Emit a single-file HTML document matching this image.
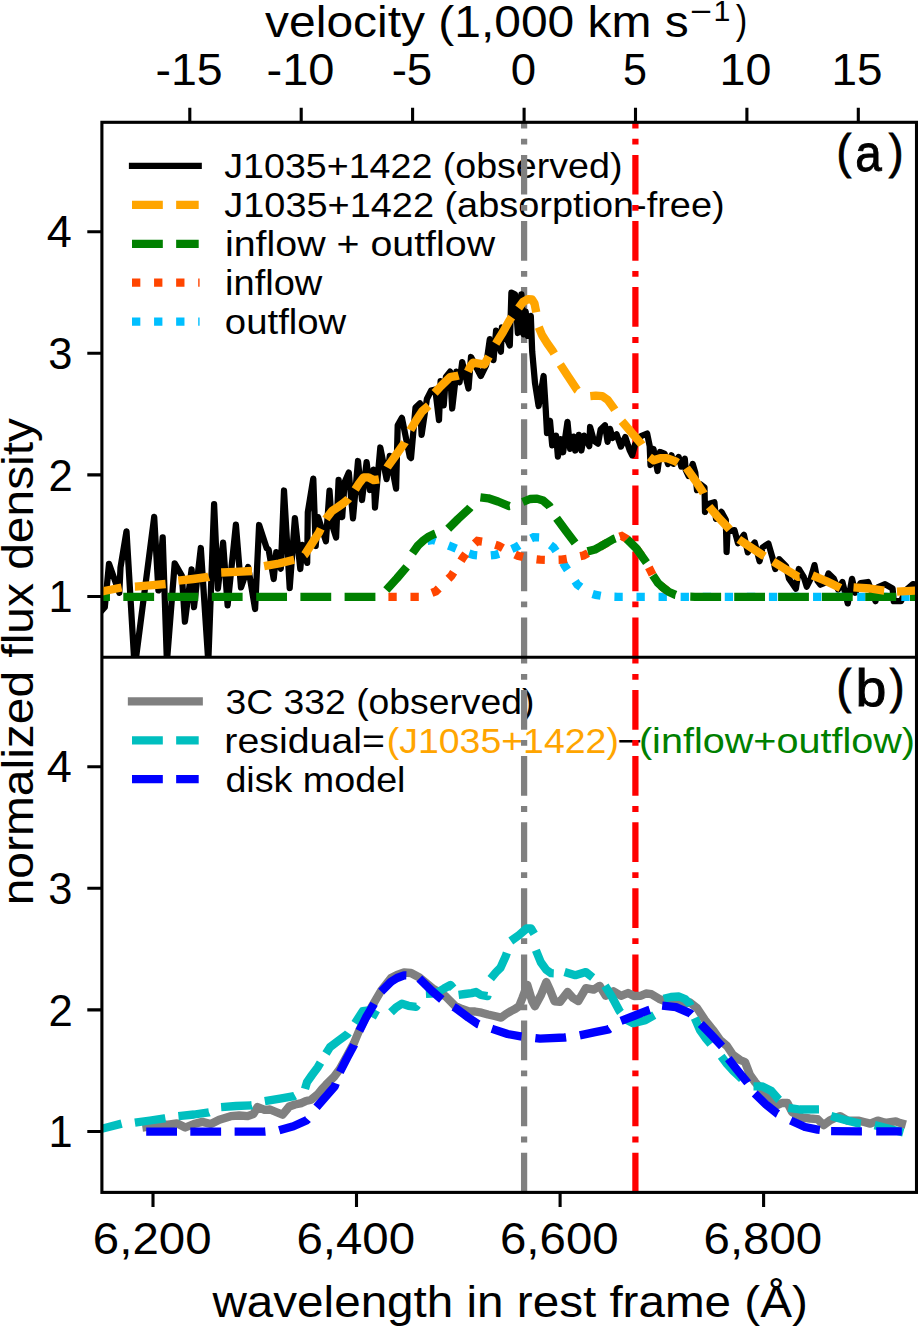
<!DOCTYPE html>
<html><head><meta charset="utf-8"><style>
html,body{margin:0;padding:0;background:#fff;overflow:hidden;}
svg{display:block;}
text{font-family:"Liberation Sans", sans-serif;fill:#000;font-kerning:none;}
</style></head><body>
<svg width="918" height="1327" viewBox="0 0 918 1327">
<rect width="918" height="1327" fill="#fff"/>
<defs>
<clipPath id="ca"><rect x="101.9" y="122.3" width="814.6" height="535.0"/></clipPath>
<clipPath id="cb"><rect x="101.9" y="657.3" width="814.6" height="535.1000000000001"/></clipPath>
</defs>
<text x="224.31" y="178.20" font-size="35.2" textLength="398.12" lengthAdjust="spacingAndGlyphs">J1035+1422 (observed)</text>
<text x="224.31" y="217.10" font-size="35.2" textLength="500.34" lengthAdjust="spacingAndGlyphs">J1035+1422 (absorption-free)</text>
<text x="224.97" y="255.80" font-size="35.2" textLength="270.14" lengthAdjust="spacingAndGlyphs">inflow + outflow</text>
<text x="225.06" y="294.80" font-size="35.2" textLength="97.25" lengthAdjust="spacingAndGlyphs">inflow</text>
<text x="224.89" y="333.60" font-size="35.2" textLength="121.42" lengthAdjust="spacingAndGlyphs">outflow</text>
<line x1="132.0" y1="165.9" x2="198.7" y2="165.9" stroke="#000" stroke-width="6.25" stroke-linecap="square"/>
<line x1="132.0" y1="204.9" x2="198.7" y2="204.9" stroke="#ffa500" stroke-width="8.33" stroke-dasharray="30.82 13.33"/>
<line x1="132.0" y1="243.8" x2="198.7" y2="243.8" stroke="#008000" stroke-width="8.33" stroke-dasharray="30.82 13.33"/>
<line x1="132.0" y1="282.7" x2="199.6" y2="282.7" stroke="#ff4500" stroke-width="8.33" stroke-dasharray="8.33 13.74"/>
<line x1="132.0" y1="321.6" x2="199.6" y2="321.6" stroke="#00bfff" stroke-width="8.33" stroke-dasharray="8.33 13.74"/>
<line x1="132.0" y1="701.4" x2="198.7" y2="701.4" stroke="#808080" stroke-width="8.33" stroke-linecap="square"/>
<line x1="132.0" y1="740.3" x2="198.7" y2="740.3" stroke="#00bfbf" stroke-width="8.33" stroke-dasharray="30.82 13.33"/>
<line x1="132.0" y1="779.2" x2="198.7" y2="779.2" stroke="#0000ff" stroke-width="8.33" stroke-dasharray="30.82 13.33"/>
<text x="225.58" y="713.90" font-size="35.2" textLength="308.73" lengthAdjust="spacingAndGlyphs">3C 332 (observed)</text>
<text x="224.39" y="752.60" font-size="35.2" textLength="160.55" lengthAdjust="spacingAndGlyphs">residual=</text>
<text x="386.68" y="752.60" font-size="35.2" textLength="232.25" lengthAdjust="spacingAndGlyphs" style="fill:#ffa500">(J1035+1422)</text>
<text x="617.08" y="752.60" font-size="35.2" textLength="25.12" lengthAdjust="spacingAndGlyphs">−</text>
<text x="638.95" y="752.60" font-size="35.2" textLength="276.11" lengthAdjust="spacingAndGlyphs" style="fill:#008000">(inflow+outflow)</text>
<text x="225.42" y="791.50" font-size="35.2" textLength="180.10" lengthAdjust="spacingAndGlyphs">disk model</text>
<text x="836.44" y="167.80" font-size="48" textLength="14.82" lengthAdjust="spacingAndGlyphs" stroke="#000" stroke-width="0.9">(</text>
<text x="855.37" y="171.40" font-size="52" textLength="26.53" lengthAdjust="spacingAndGlyphs" stroke="#000" stroke-width="0.9">a</text>
<text x="888.64" y="167.80" font-size="48" textLength="14.70" lengthAdjust="spacingAndGlyphs" stroke="#000" stroke-width="0.9">)</text>
<text x="836.44" y="702.60" font-size="48" textLength="14.82" lengthAdjust="spacingAndGlyphs" stroke="#000" stroke-width="0.9">(</text>
<text x="855.42" y="706.20" font-size="51.6" textLength="30.92" lengthAdjust="spacingAndGlyphs" stroke="#000" stroke-width="0.9">b</text>
<text x="889.74" y="702.60" font-size="48" textLength="14.70" lengthAdjust="spacingAndGlyphs" stroke="#000" stroke-width="0.9">)</text>
<line x1="524.1" y1="657.3" x2="524.1" y2="122.3" stroke="#808080" stroke-width="6.25" stroke-dasharray="39.7 10.3 5.8 10.3"/>
<line x1="524.1" y1="1192.4" x2="524.1" y2="657.3" stroke="#808080" stroke-width="6.25" stroke-dasharray="39.7 10.3 5.8 10.3"/>
<line x1="635.4" y1="657.3" x2="635.4" y2="122.3" stroke="#ff0000" stroke-width="6.25" stroke-dasharray="39.7 10.3 5.8 10.3"/>
<line x1="635.4" y1="1192.4" x2="635.4" y2="657.3" stroke="#ff0000" stroke-width="6.25" stroke-dasharray="39.7 10.3 5.8 10.3"/>
<g clip-path="url(#ca)" fill="none">
<polyline points="100.5,612.0 104.8,607.2 109.0,563.9 119.3,592.8 120.5,567.5 126.5,531.3 134.3,662.0 135.5,662.0 154.2,516.9 158.4,590.4 162.7,537.3 166.9,662.0 174.7,563.3 181.9,575.9 184.9,621.7 191.6,569.3 194.0,607.2 200.8,548.0 208.3,662.0 214.1,504.1 217.9,588.7 223.1,542.6 227.6,605.4 235.9,524.6 241.0,587.4 248.1,566.9 255.1,609.0 259.1,525.0 266.7,548.2 268.6,549.5 273.7,579.0 276.3,552.1 280.8,568.7 284.0,490.5 289.7,588.0 294.9,518.1 300.3,569.0 302.4,544.8 307.2,562.9 307.8,512.3 313.3,478.6 315.7,546.0 318.1,517.1 325.9,541.2 329.5,490.6 331.9,524.3 336.1,537.6 338.6,479.8 342.2,517.1 344.6,482.2 348.8,472.5 353.0,518.3 358.0,461.0 362.0,500.0 366.6,462.2 370.0,490.0 373.5,469.6 375.0,507.6 380.3,447.5 386.6,479.1 389.8,455.9 396.1,488.6 397.7,425.3 401.9,417.9 409.8,456.9 411.0,458.1 415.5,407.5 420.0,403.3 421.6,434.9 426.9,399.0 431.1,390.6 435.3,389.6 439.0,420.1 440.6,381.1 443.7,405.4 445.9,376.9 450.1,371.6 452.2,408.5 456.4,371.6 459.6,382.2 462.2,362.1 468.5,388.5 471.0,357.0 480.8,376.0 486.1,365.4 489.8,339.1 493.5,360.1 496.1,330.6 500.9,351.7 501.9,327.5 509.8,345.4 511.4,292.7 515.0,294.3 517.9,333.0 521.4,294.3 523.6,334.4 525.7,311.5 527.9,335.9 530.8,315.8 532.2,351.6 535.0,383.1 538.6,406.0 543.6,376.0 545.7,408.7 547.0,433.1 550.0,420.9 552.2,445.3 556.1,435.7 557.9,456.6 560.5,439.2 563.1,452.3 567.5,421.8 570.1,448.8 573.6,436.6 575.3,450.5 578.8,434.9 581.4,450.5 584.0,435.7 589.3,446.2 590.1,427.0 594.0,441.0 598.0,443.6 600.6,429.6 605.0,425.3 607.6,441.8 610.0,428.8 612.5,438.0 616.6,434.4 620.9,446.6 625.3,437.0 629.6,450.1 632.2,455.3 634.9,444.9 641.0,436.1 647.1,433.5 649.7,446.0 650.5,465.0 653.5,449.0 657.5,471.0 660.1,452.0 664.5,453.6 668.0,464.0 671.5,455.3 673.5,463.9 678.7,457.0 681.3,466.6 684.8,458.7 685.7,470.0 688.5,476.0 692.7,463.9 695.3,472.7 697.0,490.1 700.0,484.0 704.5,487.5 705.0,512.0 708.3,504.0 714.4,502.3 716.0,518.8 721.4,511.9 725.8,519.7 726.6,552.0 727.5,531.0 734.5,530.2 738.0,543.2 743.9,534.7 747.8,552.4 750.0,548.0 754.7,542.5 759.6,561.2 762.5,547.5 768.4,543.5 772.4,557.3 775.3,569.0 779.2,559.2 786.1,566.1 789.0,578.8 795.9,588.6 798.8,569.0 803.7,576.9 806.7,586.7 810.6,578.8 814.5,565.1 817.5,580.8 820.4,584.7 825.3,582.7 828.5,573.5 833.9,578.8 838.1,589.5 842.4,582.0 847.8,603.4 852.0,578.8 855.2,592.7 860.6,583.1 868.0,582.0 875.5,601.2 877.6,587.4 885.1,584.2 892.6,588.4 893.7,601.2 901.1,601.2 905.4,590.6 912.9,584.2 920.0,585.2" stroke="#000" stroke-width="6.25" stroke-linejoin="round" stroke-linecap="round"/>
<polyline points="418.0,545.5 423.8,541.5 433.0,540.0 442.0,543.0 448.5,545.5" stroke-dasharray="8.33 13.74" stroke-dashoffset="11.33" stroke="#00bfff" stroke-width="8.33"/>
<polyline points="448.5,545.5 452.6,547.1 463.0,551.5 473.5,555.0 484.0,556.0 495.3,555.0 506.0,551.5 516.2,547.1 525.0,541.5 533.5,537.2 540.0,537.5 545.0,541.0 553.5,547.3 559.0,555.5 564.8,565.9 577.3,584.5 588.0,592.5 595.9,594.9 605.0,596.5 617.6,596.8 922.0,596.8" stroke-dasharray="8.33 13.74" stroke-dashoffset="0" stroke="#00bfff" stroke-width="8.33"/>
<polyline points="388.4,596.8 420.0,596.8 428.0,594.5 435.7,591.5 451.3,575.9 463.0,557.6 470.0,548.0 477.5,541.0 488.0,542.5 498.7,545.9 508.0,551.0 517.9,555.8 529.0,558.5 540.0,559.7 551.0,560.0 561.7,559.7 572.0,558.0 583.5,555.5 595.0,549.5 601.1,546.2 613.5,539.0 621.8,536.0 626.9,539.0 636.2,548.3 646.6,562.8 649.7,569.0 652.8,575.2 658.0,583.0 663.1,587.6 669.0,592.0 675.6,594.9" stroke-dasharray="8.33 13.74" stroke-dashoffset="0" stroke="#ff4500" stroke-width="8.33"/>
<polyline points="79.0,596.8 123.3,596.8" stroke-dasharray="30.82 13.33" stroke-dashoffset="44.00" stroke="#008000" stroke-width="8.33" stroke-linejoin="round"/>
<polyline points="123.3,596.8 167.5,596.8" stroke-dasharray="30.82 13.38" stroke-dashoffset="0" stroke="#008000" stroke-width="8.33" stroke-linejoin="round"/>
<polyline points="167.5,596.8 211.8,596.8" stroke-dasharray="30.82 13.48" stroke-dashoffset="0" stroke="#008000" stroke-width="8.33" stroke-linejoin="round"/>
<polyline points="211.8,596.8 256.2,596.8" stroke-dasharray="30.82 13.58" stroke-dashoffset="0" stroke="#008000" stroke-width="8.33" stroke-linejoin="round"/>
<polyline points="256.2,596.8 300.4,596.8" stroke-dasharray="30.82 13.38" stroke-dashoffset="0" stroke="#008000" stroke-width="8.33" stroke-linejoin="round"/>
<polyline points="300.4,596.8 344.6,596.8" stroke-dasharray="30.82 13.38" stroke-dashoffset="0" stroke="#008000" stroke-width="8.33" stroke-linejoin="round"/>
<polyline points="344.6,596.8 378.0,596.8 382.0,595.2 386.3,590.0" stroke-dasharray="30.82 13.63" stroke-dashoffset="0" stroke="#008000" stroke-width="8.33" stroke-linejoin="round"/>
<polyline points="386.3,590.0 397.0,578.3 407.2,566.3 410.0,559.5 412.5,553.2" stroke-dasharray="30.82 14.92" stroke-dashoffset="0" stroke="#008000" stroke-width="8.33" stroke-linejoin="round"/>
<polyline points="412.5,553.2 418.0,545.5 423.8,540.1 429.0,536.5 434.3,534.0 441.0,531.5 448.2,528.8" stroke-dasharray="30.82 13.59" stroke-dashoffset="0" stroke="#008000" stroke-width="8.33" stroke-linejoin="round"/>
<polyline points="448.2,528.8 458.0,519.0 469.1,508.8 475.0,502.0 480.4,497.4" stroke-dasharray="30.82 14.21" stroke-dashoffset="0" stroke="#008000" stroke-width="8.33" stroke-linejoin="round"/>
<polyline points="480.4,497.4 488.3,498.3 498.0,501.5 509.2,506.1 516.0,505.0 522.7,502.0" stroke-dasharray="30.82 13.68" stroke-dashoffset="0" stroke="#008000" stroke-width="8.33" stroke-linejoin="round"/>
<polyline points="522.7,502.0 530.0,499.0 537.0,498.6 543.0,500.5 549.3,505.9 556.6,518.3" stroke-dasharray="30.82 13.06" stroke-dashoffset="0" stroke="#008000" stroke-width="8.33" stroke-linejoin="round"/>
<polyline points="556.6,518.3 566.0,531.0 575.2,543.1 581.0,549.5 587.6,551.4" stroke-dasharray="30.82 15.68" stroke-dashoffset="0" stroke="#008000" stroke-width="8.33" stroke-linejoin="round"/>
<polyline points="587.6,551.4 595.0,549.5 601.1,546.2 613.5,539.0 621.8,536.0 626.9,539.0" stroke-dasharray="30.82 12.84" stroke-dashoffset="0" stroke="#008000" stroke-width="8.33" stroke-linejoin="round"/>
<polyline points="626.9,539.0 636.2,548.3 646.6,562.8 649.7,569.0 652.8,575.2" stroke-dasharray="30.82 14.04" stroke-dashoffset="0" stroke="#008000" stroke-width="8.33" stroke-linejoin="round"/>
<polyline points="652.8,575.2 658.0,583.0 663.1,587.6 669.0,592.0 675.6,594.9 685.0,596.6 690.3,596.7" stroke-dasharray="30.82 14.84" stroke-dashoffset="0" stroke="#008000" stroke-width="8.33" stroke-linejoin="round"/>
<polyline points="690.3,596.7 695.0,596.8 734.2,596.8" stroke-dasharray="30.82 13.08" stroke-dashoffset="0" stroke="#008000" stroke-width="8.33" stroke-linejoin="round"/>
<polyline points="734.2,596.8 778.1,596.8" stroke-dasharray="30.82 13.08" stroke-dashoffset="0" stroke="#008000" stroke-width="8.33" stroke-linejoin="round"/>
<polyline points="778.1,596.8 821.9,596.8" stroke-dasharray="30.82 12.98" stroke-dashoffset="0" stroke="#008000" stroke-width="8.33" stroke-linejoin="round"/>
<polyline points="821.9,596.8 865.3,596.8" stroke-dasharray="30.82 12.58" stroke-dashoffset="0" stroke="#008000" stroke-width="8.33" stroke-linejoin="round"/>
<polyline points="865.3,596.8 910.0,596.8" stroke-dasharray="30.82 13.88" stroke-dashoffset="0" stroke="#008000" stroke-width="8.33" stroke-linejoin="round"/>
<polyline points="910.0,596.8 922.0,596.8" stroke-dasharray="30.82 13.33" stroke-dashoffset="0" stroke="#008000" stroke-width="8.33" stroke-linejoin="round"/>
<polyline points="91.0,592.2 104.0,591.0 121.7,587.5 134.9,586.6" stroke-dasharray="30.82 13.33" stroke-dashoffset="43.97" stroke="#ffa500" stroke-width="8.33" stroke-linejoin="round"/>
<polyline points="134.9,586.6 135.0,586.6 150.0,585.3 165.7,584.0 178.3,580.7" stroke-dasharray="30.82 13.11" stroke-dashoffset="0" stroke="#ffa500" stroke-width="8.33" stroke-linejoin="round"/>
<polyline points="178.3,580.7 193.0,579.0 208.0,577.0 221.0,572.5 221.2,572.5" stroke-dasharray="30.82 13.07" stroke-dashoffset="0" stroke="#ffa500" stroke-width="8.33" stroke-linejoin="round"/>
<polyline points="221.2,572.5 236.0,571.8 252.0,571.0 264.0,566.2 264.1,566.2" stroke-dasharray="30.82 13.04" stroke-dashoffset="0" stroke="#ffa500" stroke-width="8.33" stroke-linejoin="round"/>
<polyline points="264.1,566.2 279.0,563.5 294.0,559.7 300.0,558.5 304.5,554.9" stroke-dasharray="30.82 11.66" stroke-dashoffset="0" stroke="#ffa500" stroke-width="8.33" stroke-linejoin="round"/>
<polyline points="304.5,554.9 304.9,554.6 311.0,545.0 319.0,532.6 323.0,524.0 326.0,519.0" stroke-dasharray="30.82 11.11" stroke-dashoffset="0" stroke="#ffa500" stroke-width="8.33" stroke-linejoin="round"/>
<polyline points="326.0,519.0 326.8,517.7 332.0,511.0 338.0,507.0 343.0,503.5 348.1,499.3 355.2,489.4" stroke-dasharray="30.82 11.31" stroke-dashoffset="0" stroke="#ffa500" stroke-width="8.33" stroke-linejoin="round"/>
<polyline points="355.2,489.4 359.0,483.5 363.7,477.4 368.5,477.3 373.6,480.2 380.7,479.0 387.2,467.6" stroke-dasharray="30.82 14.91" stroke-dashoffset="0" stroke="#ffa500" stroke-width="8.33" stroke-linejoin="round"/>
<polyline points="387.2,467.6 387.7,466.7 396.0,455.0 404.7,442.7 410.3,430.1" stroke-dasharray="30.82 13.37" stroke-dashoffset="0" stroke="#ffa500" stroke-width="8.33" stroke-linejoin="round"/>
<polyline points="410.3,430.1 410.4,429.9 416.3,420.1 422.0,411.5 428.8,405.6 434.6,392.9" stroke-dasharray="30.82 14.15" stroke-dashoffset="0" stroke="#ffa500" stroke-width="8.33" stroke-linejoin="round"/>
<polyline points="434.6,392.9 441.0,386.0 450.0,377.2 455.7,376.2 462.0,374.5 467.9,371.5" stroke-dasharray="30.82 10.11" stroke-dashoffset="0" stroke="#ffa500" stroke-width="8.33" stroke-linejoin="round"/>
<polyline points="467.9,371.5 470.5,366.0 473.1,362.7 479.2,363.6 484.4,364.5 488.8,356.6 495.8,343.6" stroke-dasharray="30.82 14.71" stroke-dashoffset="0" stroke="#ffa500" stroke-width="8.33" stroke-linejoin="round"/>
<polyline points="495.8,343.6 503.0,332.0 509.7,320.0 514.5,313.0 518.6,307.9" stroke-dasharray="30.82 11.61" stroke-dashoffset="0" stroke="#ffa500" stroke-width="8.33" stroke-linejoin="round"/>
<polyline points="518.6,307.9 523.0,302.0 528.0,299.2 532.0,299.5 534.5,303.5 536.2,312.0 537.5,319.5 538.8,327.1" stroke-dasharray="30.82 14.99" stroke-dashoffset="0" stroke="#ffa500" stroke-width="8.33" stroke-linejoin="round"/>
<polyline points="538.8,327.1 542.0,335.0 547.0,343.0 553.0,351.5 560.3,364.5" stroke-dasharray="30.82 12.45" stroke-dashoffset="0" stroke="#ffa500" stroke-width="8.33" stroke-linejoin="round"/>
<polyline points="560.3,364.5 568.5,377.0 577.2,390.1 584.0,395.0 590.3,396.1" stroke-dasharray="30.82 14.63" stroke-dashoffset="0" stroke="#ffa500" stroke-width="8.33" stroke-linejoin="round"/>
<polyline points="590.3,396.1 595.8,395.6 602.3,396.1 607.7,399.9 613.7,408.1 621.9,421.2" stroke-dasharray="30.82 13.44" stroke-dashoffset="0" stroke="#ffa500" stroke-width="8.33" stroke-linejoin="round"/>
<polyline points="621.9,421.2 631.5,432.5 641.0,443.5 649.4,457.0" stroke-dasharray="30.82 14.44" stroke-dashoffset="0" stroke="#ffa500" stroke-width="8.33" stroke-linejoin="round"/>
<polyline points="649.4,457.0 653.8,460.3 660.3,458.1 666.8,458.1 675.6,461.4 686.4,467.9" stroke-dasharray="30.82 10.04" stroke-dashoffset="0" stroke="#ffa500" stroke-width="8.33" stroke-linejoin="round"/>
<polyline points="686.4,467.9 695.0,480.0 703.5,493.0 709.1,506.6" stroke-dasharray="30.82 14.26" stroke-dashoffset="0" stroke="#ffa500" stroke-width="8.33" stroke-linejoin="round"/>
<polyline points="709.1,506.6 718.0,517.0 728.9,528.7 738.8,539.4" stroke-dasharray="30.82 13.44" stroke-dashoffset="0" stroke="#ffa500" stroke-width="8.33" stroke-linejoin="round"/>
<polyline points="738.8,539.4 751.0,547.5 763.2,555.4 773.1,561.5" stroke-dasharray="30.82 9.99" stroke-dashoffset="0" stroke="#ffa500" stroke-width="8.33" stroke-linejoin="round"/>
<polyline points="773.1,561.5 786.0,569.5 798.3,576.8 805.0,576.0 812.4,575.3" stroke-dasharray="30.82 12.84" stroke-dashoffset="0" stroke="#ffa500" stroke-width="8.33" stroke-linejoin="round"/>
<polyline points="812.4,575.3 826.0,581.0 840.6,588.2 853.5,587.3" stroke-dasharray="30.82 13.14" stroke-dashoffset="0" stroke="#ffa500" stroke-width="8.33" stroke-linejoin="round"/>
<polyline points="853.5,587.3 870.0,588.5 884.1,590.6 897.0,591.6" stroke-dasharray="30.82 12.92" stroke-dashoffset="0" stroke="#ffa500" stroke-width="8.33" stroke-linejoin="round"/>
<polyline points="897.0,591.6 914.7,590.6 922.0,590.6" stroke-dasharray="30.82 13.33" stroke-dashoffset="0" stroke="#ffa500" stroke-width="8.33" stroke-linejoin="round"/>
</g>
<g clip-path="url(#cb)" fill="none">
<polyline points="146.5,1127.0 150.0,1126.5 157.0,1124.7 168.3,1124.7 176.8,1123.3 185.3,1127.5 193.8,1124.0 202.3,1121.9 210.8,1124.0 219.3,1119.7 230.7,1116.2 239.2,1115.5 247.6,1116.2 253.3,1114.1 257.6,1107.0 264.6,1109.8 270.0,1109.5 276.0,1112.0 282.6,1114.7 289.3,1106.5 295.0,1104.5 301.6,1103.1 306.0,1101.0 311.1,1099.8 317.8,1094.3 322.0,1089.0 326.0,1084.8 334.1,1076.7 339.8,1069.0 347.0,1056.0 354.0,1043.0 359.4,1030.0 366.0,1016.5 373.6,1003.5 381.2,990.5 391.0,978.0 397.0,975.0 404.0,972.5 411.0,973.0 419.4,977.5 432.5,988.2 445.6,996.4 455.4,1006.2 462.0,1009.0 468.4,1011.1 475.0,1011.5 481.5,1012.7 488.0,1014.5 494.6,1016.0 501.1,1017.6 506.0,1014.0 510.9,1011.1 515.0,1009.0 519.1,1006.2 522.4,998.0 527.3,985.0 532.2,1001.3 534.9,1006.2 541.0,995.0 546.3,982.0 550.0,990.0 554.5,1001.3 560.0,1001.9 567.6,992.0 573.0,998.0 578.3,1001.1 585.9,988.1 593.6,989.7 599.7,985.8 605.8,995.8 613.4,991.2 621.0,995.8 628.0,993.0 634.0,996.0 640.8,995.8 646.0,993.5 651.5,994.2 659.1,998.8 666.8,1001.9 674.0,1001.0 682.0,1004.5 690.0,1002.5 697.0,1008.0 705.0,1020.0 713.0,1030.0 720.0,1040.0 727.0,1046.0 733.0,1055.0 740.0,1060.0 745.0,1062.0 750.0,1075.0 755.0,1082.0 762.0,1090.0 770.0,1097.0 777.6,1105.0 782.0,1103.0 787.5,1103.0 792.0,1112.0 802.5,1117.6 810.0,1118.5 817.6,1119.1 823.6,1125.1 829.6,1120.6 835.0,1118.0 840.1,1116.1 847.6,1120.6 858.2,1120.6 864.0,1122.0 870.2,1123.6 877.7,1120.6 885.2,1122.8 895.8,1121.3 900.0,1123.0 901.8,1123.5" stroke="#808080" stroke-width="8.33" stroke-linejoin="round" stroke-linecap="square"/>
<polyline points="85.0,1132.0 101.7,1128.8 121.8,1123.6 134.9,1122.7" stroke-dasharray="30.82 13.33" stroke-dashoffset="37.40" stroke="#00bfbf" stroke-width="8.33" stroke-linejoin="round"/>
<polyline points="134.9,1122.7 150.0,1120.5 164.5,1118.4 178.4,1116.1" stroke-dasharray="30.82 13.18" stroke-dashoffset="0" stroke="#00bfbf" stroke-width="8.33" stroke-linejoin="round"/>
<polyline points="178.4,1116.1 194.0,1114.5 208.9,1112.3 221.1,1107.1" stroke-dasharray="30.82 13.18" stroke-dashoffset="0" stroke="#00bfbf" stroke-width="8.33" stroke-linejoin="round"/>
<polyline points="221.1,1107.1 236.0,1106.0 251.6,1105.3 264.8,1101.2" stroke-dasharray="30.82 13.56" stroke-dashoffset="0" stroke="#00bfbf" stroke-width="8.33" stroke-linejoin="round"/>
<polyline points="264.8,1101.2 280.0,1098.7 294.1,1096.2 300.0,1093.0 305.0,1088.9" stroke-dasharray="30.82 12.08" stroke-dashoffset="0" stroke="#00bfbf" stroke-width="8.33" stroke-linejoin="round"/>
<polyline points="305.0,1088.9 307.0,1082.1 312.0,1075.0 317.8,1067.2 322.0,1060.0 326.0,1053.5" stroke-dasharray="30.82 10.60" stroke-dashoffset="0" stroke="#00bfbf" stroke-width="8.33" stroke-linejoin="round"/>
<polyline points="326.0,1053.5 330.0,1047.1 338.0,1041.0 347.4,1034.1 355.0,1023.2" stroke-dasharray="30.82 11.78" stroke-dashoffset="0" stroke="#00bfbf" stroke-width="8.33" stroke-linejoin="round"/>
<polyline points="355.0,1023.2 362.7,1011.2 367.0,1010.5 371.4,1012.3 379.0,1016.6 385.0,1015.0 391.0,1012.3" stroke-dasharray="30.82 14.07" stroke-dashoffset="0" stroke="#00bfbf" stroke-width="8.33" stroke-linejoin="round"/>
<polyline points="391.0,1012.3 396.0,1007.5 401.9,1003.6 408.4,1005.8 416.1,1006.8 421.0,1000.0 425.9,993.8" stroke-dasharray="30.82 14.09" stroke-dashoffset="0" stroke="#00bfbf" stroke-width="8.33" stroke-linejoin="round"/>
<polyline points="425.9,993.8 432.0,993.5 439.0,991.5 444.0,988.5 450.5,985.0 458.6,994.8" stroke-dasharray="30.82 8.49" stroke-dashoffset="0" stroke="#00bfbf" stroke-width="8.33" stroke-linejoin="round"/>
<polyline points="458.6,994.8 465.0,994.0 471.7,993.1 476.0,992.0 480.9,995.0 487.4,996.1 489.0,987.0 490.7,978.6" stroke-dasharray="30.82 16.98" stroke-dashoffset="0" stroke="#00bfbf" stroke-width="8.33" stroke-linejoin="round"/>
<polyline points="490.7,978.6 496.1,972.1 500.5,967.7 505.9,955.8 508.5,948.0 510.8,941.0" stroke-dasharray="30.82 12.51" stroke-dashoffset="0" stroke="#00bfbf" stroke-width="8.33" stroke-linejoin="round"/>
<polyline points="510.8,941.0 519.0,935.1 526.6,928.5 531.0,928.5 534.3,934.0 535.2,942.0 535.9,950.3" stroke-dasharray="30.82 16.54" stroke-dashoffset="0" stroke="#00bfbf" stroke-width="8.33" stroke-linejoin="round"/>
<polyline points="535.9,950.3 540.8,962.3 546.3,969.9 551.2,973.2 559.0,973.5 564.6,972.1" stroke-dasharray="30.82 11.01" stroke-dashoffset="0" stroke="#00bfbf" stroke-width="8.33" stroke-linejoin="round"/>
<polyline points="564.6,972.1 575.3,975.2 585.9,972.1 592.8,977.5 605.0,985.8" stroke-dasharray="30.82 14.88" stroke-dashoffset="0" stroke="#00bfbf" stroke-width="8.33" stroke-linejoin="round"/>
<polyline points="605.0,985.8 612.0,997.0 619.5,1011.0 626.0,1019.5" stroke-dasharray="30.82 8.97" stroke-dashoffset="0" stroke="#00bfbf" stroke-width="8.33" stroke-linejoin="round"/>
<polyline points="626.0,1019.5 633.2,1023.2 645.4,1020.2 657.6,1013.3 663.7,998.8" stroke-dasharray="30.82 19.58" stroke-dashoffset="0" stroke="#00bfbf" stroke-width="8.33" stroke-linejoin="round"/>
<polyline points="663.7,998.8 671.0,997.0 679.0,996.5 685.0,999.0 689.6,1003.4 694.8,1018.0" stroke-dasharray="30.82 13.08" stroke-dashoffset="0" stroke="#00bfbf" stroke-width="8.33" stroke-linejoin="round"/>
<polyline points="694.8,1018.0 700.0,1030.0 706.0,1038.5 712.8,1046.7 721.2,1056.3" stroke-dasharray="30.82 16.07" stroke-dashoffset="0" stroke="#00bfbf" stroke-width="8.33" stroke-linejoin="round"/>
<polyline points="721.2,1056.3 727.0,1064.0 733.1,1070.7 745.0,1082.0 753.5,1086.3" stroke-dasharray="30.82 13.82" stroke-dashoffset="0" stroke="#00bfbf" stroke-width="8.33" stroke-linejoin="round"/>
<polyline points="753.5,1086.3 761.9,1086.3 771.5,1091.1 778.7,1099.5 788.3,1107.8" stroke-dasharray="30.82 12.07" stroke-dashoffset="0" stroke="#00bfbf" stroke-width="8.33" stroke-linejoin="round"/>
<polyline points="788.3,1107.8 800.0,1109.5 819.1,1109.3 831.1,1116.1" stroke-dasharray="30.82 13.90" stroke-dashoffset="0" stroke="#00bfbf" stroke-width="8.33" stroke-linejoin="round"/>
<polyline points="831.1,1116.1 845.0,1120.0 859.7,1123.6 874.7,1125.1" stroke-dasharray="30.82 13.82" stroke-dashoffset="0" stroke="#00bfbf" stroke-width="8.33" stroke-linejoin="round"/>
<polyline points="874.7,1125.1 890.0,1129.0 903.3,1132.6" stroke-dasharray="30.82 13.33" stroke-dashoffset="0" stroke="#00bfbf" stroke-width="8.33" stroke-linejoin="round"/>
<polyline points="146.2,1131.7 190.3,1131.7" stroke-dasharray="30.82 13.28" stroke-dashoffset="0" stroke="#0000ff" stroke-width="8.33" stroke-linejoin="round"/>
<polyline points="190.3,1131.7 234.6,1131.6" stroke-dasharray="30.82 13.48" stroke-dashoffset="0" stroke="#0000ff" stroke-width="8.33" stroke-linejoin="round"/>
<polyline points="234.6,1131.6 250.0,1131.6 264.0,1131.6 279.2,1130.3" stroke-dasharray="30.82 13.83" stroke-dashoffset="0" stroke="#0000ff" stroke-width="8.33" stroke-linejoin="round"/>
<polyline points="279.2,1130.3 293.4,1126.2 307.0,1120.1 312.0,1114.5 316.5,1107.2" stroke-dasharray="30.82 14.95" stroke-dashoffset="0" stroke="#0000ff" stroke-width="8.33" stroke-linejoin="round"/>
<polyline points="316.5,1107.2 325.0,1097.5 334.8,1086.2 339.8,1072.2" stroke-dasharray="30.82 11.90" stroke-dashoffset="0" stroke="#0000ff" stroke-width="8.33" stroke-linejoin="round"/>
<polyline points="339.8,1072.2 347.0,1058.0 354.0,1045.0 359.4,1030.8" stroke-dasharray="30.82 15.06" stroke-dashoffset="0" stroke="#0000ff" stroke-width="8.33" stroke-linejoin="round"/>
<polyline points="359.4,1030.8 366.0,1017.5 373.6,1004.7 381.2,991.6" stroke-dasharray="30.82 14.06" stroke-dashoffset="0" stroke="#0000ff" stroke-width="8.33" stroke-linejoin="round"/>
<polyline points="381.2,991.6 391.0,981.8 397.0,978.0 404.1,975.3 411.0,975.5 419.3,978.5" stroke-dasharray="30.82 13.46" stroke-dashoffset="0" stroke="#0000ff" stroke-width="8.33" stroke-linejoin="round"/>
<polyline points="419.3,978.5 432.5,991.5 443.9,1001.3 455.4,1007.8 468.4,1017.6 478.2,1024.2 492.9,1029.1 507.6,1034.0 520.7,1036.4 540.0,1038.6 564.5,1037.5 579.5,1035.5 579.8,1035.4" stroke-dasharray="30.82 13.82" stroke-dashoffset="0" stroke="#0000ff" stroke-width="8.33" stroke-linejoin="round"/>
<polyline points="579.8,1035.4 595.0,1032.2 608.8,1029.3 621.0,1020.9" stroke-dasharray="30.82 13.63" stroke-dashoffset="0" stroke="#0000ff" stroke-width="8.33" stroke-linejoin="round"/>
<polyline points="621.0,1020.9 635.0,1015.5 648.5,1010.2 662.2,1005.7" stroke-dasharray="30.82 13.11" stroke-dashoffset="0" stroke="#0000ff" stroke-width="8.33" stroke-linejoin="round"/>
<polyline points="662.2,1005.7 675.9,1007.2 690.4,1013.3 700.8,1024.0" stroke-dasharray="30.82 13.61" stroke-dashoffset="0" stroke="#0000ff" stroke-width="8.33" stroke-linejoin="round"/>
<polyline points="700.8,1024.0 711.0,1034.5 722.4,1046.7 728.3,1058.7" stroke-dasharray="30.82 13.89" stroke-dashoffset="0" stroke="#0000ff" stroke-width="8.33" stroke-linejoin="round"/>
<polyline points="728.3,1058.7 738.0,1071.0 747.5,1082.7 754.7,1093.5" stroke-dasharray="30.82 12.89" stroke-dashoffset="0" stroke="#0000ff" stroke-width="8.33" stroke-linejoin="round"/>
<polyline points="754.7,1093.5 766.0,1104.5 777.5,1113.8 790.7,1120.5" stroke-dasharray="30.82 14.54" stroke-dashoffset="0" stroke="#0000ff" stroke-width="8.33" stroke-linejoin="round"/>
<polyline points="790.7,1120.5 805.0,1127.0 817.6,1129.6 831.1,1131.1" stroke-dasharray="30.82 11.34" stroke-dashoffset="0" stroke="#0000ff" stroke-width="8.33" stroke-linejoin="round"/>
<polyline points="831.1,1131.1 860.0,1131.3 876.2,1131.3" stroke-dasharray="30.82 14.28" stroke-dashoffset="0" stroke="#0000ff" stroke-width="8.33" stroke-linejoin="round"/>
<polyline points="876.2,1131.3 901.8,1131.4" stroke-dasharray="30.82 13.33" stroke-dashoffset="0" stroke="#0000ff" stroke-width="8.33" stroke-linejoin="round"/>
</g>
<rect x="101.9" y="122.3" width="814.6" height="1070.1000000000001" fill="none" stroke="#000" stroke-width="3.1"/>
<line x1="101.9" y1="657.3" x2="916.5" y2="657.3" stroke="#000" stroke-width="3.1"/>
<path d="M153.0,1192.4V1207.0 M356.5,1192.4V1207.0 M560.1,1192.4V1207.0 M763.6,1192.4V1207.0 M101.9,596.5H87.30000000000001 M101.9,1131.5H87.30000000000001 M101.9,474.9H87.30000000000001 M101.9,1009.9H87.30000000000001 M101.9,353.3H87.30000000000001 M101.9,888.3H87.30000000000001 M101.9,231.7H87.30000000000001 M101.9,766.7H87.30000000000001 M189.8,122.3V107.7 M301.2,122.3V107.7 M412.6,122.3V107.7 M524.1,122.3V107.7 M635.5,122.3V107.7 M746.9,122.3V107.7 M858.3,122.3V107.7" stroke="#000" stroke-width="3.1" fill="none"/>
<text x="92.88" y="1254.40" font-size="44.1" textLength="118.68" lengthAdjust="spacingAndGlyphs">6,200</text>
<text x="296.42" y="1254.40" font-size="44.1" textLength="118.68" lengthAdjust="spacingAndGlyphs">6,400</text>
<text x="499.96" y="1254.40" font-size="44.1" textLength="118.68" lengthAdjust="spacingAndGlyphs">6,600</text>
<text x="703.50" y="1254.40" font-size="44.1" textLength="118.68" lengthAdjust="spacingAndGlyphs">6,800</text>
<text x="155.53" y="85.20" font-size="44.1" textLength="67.20" lengthAdjust="spacingAndGlyphs">-15</text>
<text x="266.49" y="85.20" font-size="44.1" textLength="67.99" lengthAdjust="spacingAndGlyphs">-10</text>
<text x="391.66" y="85.20" font-size="44.1" textLength="40.62" lengthAdjust="spacingAndGlyphs">-5</text>
<text x="510.77" y="85.20" font-size="44.1" textLength="25.36" lengthAdjust="spacingAndGlyphs">0</text>
<text x="622.92" y="85.20" font-size="44.1" textLength="23.99" lengthAdjust="spacingAndGlyphs">5</text>
<text x="719.51" y="85.20" font-size="44.1" textLength="51.85" lengthAdjust="spacingAndGlyphs">10</text>
<text x="831.43" y="85.20" font-size="44.1" textLength="51.02" lengthAdjust="spacingAndGlyphs">15</text>
<text x="48.51" y="612.10" font-size="44.1" textLength="24.11" lengthAdjust="spacingAndGlyphs">1</text>
<text x="48.51" y="1147.10" font-size="44.1" textLength="24.11" lengthAdjust="spacingAndGlyphs">1</text>
<text x="48.42" y="490.51" font-size="44.1" textLength="24.28" lengthAdjust="spacingAndGlyphs">2</text>
<text x="48.42" y="1025.51" font-size="44.1" textLength="24.28" lengthAdjust="spacingAndGlyphs">2</text>
<text x="48.24" y="368.92" font-size="44.1" textLength="24.17" lengthAdjust="spacingAndGlyphs">3</text>
<text x="48.24" y="903.92" font-size="44.1" textLength="24.17" lengthAdjust="spacingAndGlyphs">3</text>
<text x="46.73" y="247.33" font-size="44.1" textLength="25.09" lengthAdjust="spacingAndGlyphs">4</text>
<text x="46.73" y="782.33" font-size="44.1" textLength="25.09" lengthAdjust="spacingAndGlyphs">4</text>
<text x="212.47" y="1317.20" font-size="44.0" textLength="595.28" lengthAdjust="spacingAndGlyphs">wavelength in rest frame (Å)</text>
<text transform="translate(32.6,902.1) rotate(-90)" x="-3.18" y="0" font-size="44" textLength="487.27" lengthAdjust="spacingAndGlyphs">normalized flux density</text>
<text x="265.14" y="36.80" font-size="44.0" textLength="423.60" lengthAdjust="spacingAndGlyphs">velocity (1,000 km s</text>
<text x="689.74" y="22.10" font-size="31" textLength="22.00" lengthAdjust="spacingAndGlyphs">−</text>
<text x="713.49" y="20.90" font-size="29.4" textLength="16.90" lengthAdjust="spacingAndGlyphs">1</text>
<text x="735.80" y="34.20" font-size="40.0" textLength="11.56" lengthAdjust="spacingAndGlyphs">)</text>
</svg></body></html>
